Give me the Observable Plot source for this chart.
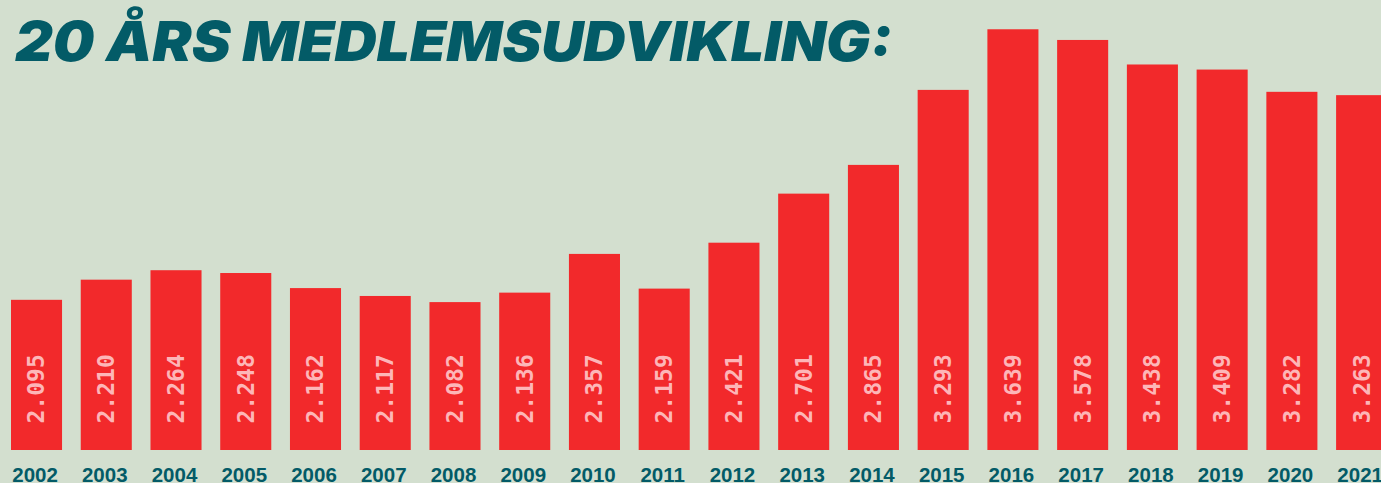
<!DOCTYPE html>
<html><head><meta charset="utf-8">
<script src="https://cdn.jsdelivr.net/npm/d3@7"></script>
<script src="https://cdn.jsdelivr.net/npm/@observablehq/plot@0.6"></script>
<style>
html,body{margin:0;padding:0;background:#d3dfcf;overflow:hidden;width:1381px;height:483px}
#wrap{position:relative;width:1381px;height:483px}
#title{position:absolute;left:15px;top:14px;font-family:"Inter";font-weight:900;font-style:italic;font-size:55px;line-height:55px;color:#035b67;white-space:nowrap;transform-origin:0 0}
</style></head><body>
<div id="wrap"><div id="chart"></div><div id="title"></div></div>
<script>
const titleText = "20 ÅRS MEDLEMSUDVIKLING:";
const years = ["2002","2003","2004","2005","2006","2007","2008","2009","2010","2011","2012","2013","2014","2015","2016","2017","2018","2019","2020","2021"];
const members = [2095,2210,2264,2248,2162,2117,2082,2136,2357,2159,2421,2701,2865,3293,3639,3578,3438,3409,3282,3263];

const data = years.map((y,i)=>({year:y, value:members[i]}));
const fmt = d3.formatLocale({decimal:",", thousands:".", grouping:[3], currency:["","kr"]}).format(",");

const yBase = 1238, yTop = 3806;
const RED = "#f2292b", TEAL = "#035b67", PINK = "#fdb6b8";

const chart = Plot.plot({
  width: 1381, height: 483,
  marginTop: 0, marginBottom: 33, marginLeft: 0, marginRight: 0,
  style: {background: "transparent", overflow: "hidden"},
  x: {type: "band", domain: years, range: [1.65, 1396.5], paddingInner: 0.268, paddingOuter: 0.134, round: false, axis: null},
  y: {domain: [yBase, yTop], axis: null},
  marks: [
    Plot.barY(data, {x: "year", y1: yBase, y2: "value", fill: RED}),
    Plot.text(data, {x: "year", y: yBase, text: d => fmt(d.value), rotate: -90, textAnchor: "start", lineAnchor: "middle", dy: -27,
      fill: PINK, fontSize: 23, fontWeight: "bold", fontFamily: "DejaVu Sans Mono", letterSpacing: "0.8px"}),
    Plot.text(data, {x: "year", y: yBase, text: "year", lineAnchor: "middle", dy: 24.5, dx: -2,
      fill: TEAL, fontSize: 20.5, fontWeight: "bold", fontFamily: "Liberation Sans"})
  ]
});
document.getElementById("chart").appendChild(chart);

const t = document.getElementById("title");
t.textContent = titleText;
const w = t.getBoundingClientRect().width;
t.style.transform = `scaleX(${877 / w})`;
</script>
</body></html>
